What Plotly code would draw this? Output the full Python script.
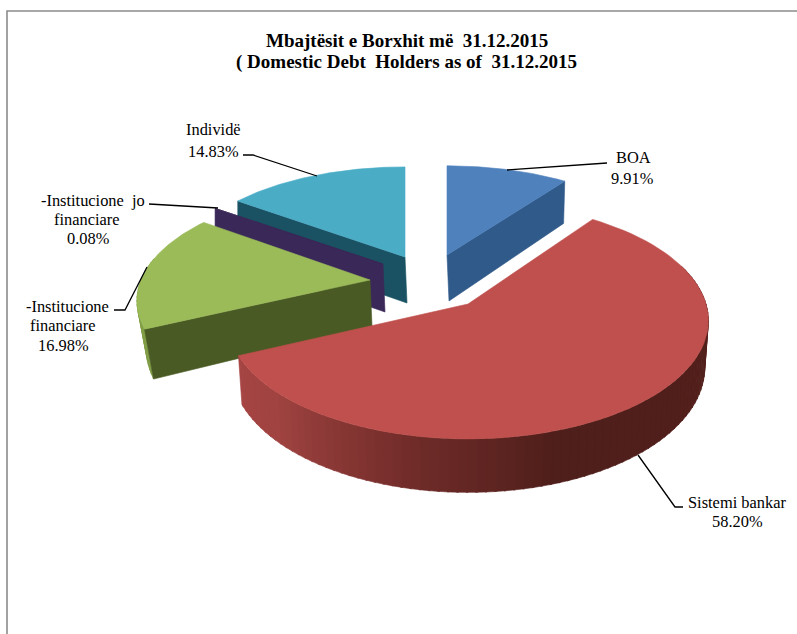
import math
import plotly.graph_objects as go

# ---- data ----
names = ["BOA", "Sistemi bankar", "-Institucione financiare", "-Institucione  jo financiare", "Individë"]
shares = [9.91, 58.20, 16.98, 0.08, 14.83]
title_lines = ["Mbajtësit e Borxhit më  31.12.2015", "( Domestic Debt  Holders as of  31.12.2015"]

# ---- drawing geometry (pixels of the 797x634 canvas) ----
W, H = 797, 634
cuts = [0.0]
for s in shares:
    cuts.append(cuts[-1] + s * 3.6 * 100 / sum(shares))  # degrees

# apex x, apex y, radius x, radius y, perspective, depth, inward shrink of the lower rim
geom = [
    (447, 255, 220, 99, 0.11, 46, 0.01),
    (468, 304, 238, 116, 0.14, 46, 0.015),
    (370, 280, 229, 108, 0.186, 46, 0.04),
    (383, 264, 222, 100, 0.11, 48, 0.0),
    (405, 257, 222, 100, 0.11, 46, 0.0),
]
top_col = ["#4f81bd", "#c0504d", "#9bbb59", "#3a2858", "#4bacc6"]
face_col = ["#305a8a", None, "#4a5a24", "#3a2858", "#1a5263"]
wall_stops = {
    1: [(60, "#5a2320"), (110, "#53201c"), (160, "#4f1f1b"), (190, "#702c29"), (225, "#a04341"), (250, "#a84644")],
    2: [(240, "#7f9c46"), (310, "#8aa84e")],
}

def hex_rgb(h):
    return tuple(int(h[i:i + 2], 16) for i in (1, 3, 5))

def lerp_col(stops, a):
    if a <= stops[0][0]:
        return stops[0][1]
    for (a0, c0), (a1, c1) in zip(stops, stops[1:]):
        if a <= a1:
            t = (a - a0) / (a1 - a0)
            r0, r1 = hex_rgb(c0), hex_rgb(c1)
            return "rgb(%d,%d,%d)" % tuple(r0[i] + (r1[i] - r0[i]) * t for i in range(3))
    return stops[-1][1]

def rim(g, deg):
    cx, cy, rx, ry, k, d, shrink = g
    t = math.radians(deg)
    u, v = math.sin(t), math.cos(t)
    s = 1 / (1 + k * v)
    return cx + rx * u * s, cy - ry * v * s, s

def low(g, deg):
    cx, cy, rx, ry, k, d, shrink = g
    x, y, s = rim(g, deg)
    return cx + (x - cx) * (1 - shrink), y + d * s

def apex_low(g):
    return g[0] + 2, g[1] + g[5]

fig = go.Figure()

def poly(xs, ys, color):
    fig.add_trace(go.Scatter(x=list(xs) + [xs[0]], y=list(ys) + [ys[0]], mode="lines",
                             fill="toself", fillcolor=color,
                             line=dict(color=color, width=0.6),
                             hoverinfo="skip", showlegend=False))

def arc_points(g, a0, a1, n=80):
    return [rim(g, a0 + (a1 - a0) * i / n)[:2] for i in range(n + 1)]

# painted back to front
order = [4, 3, 2, 0, 1]
for idx in order:
    g = geom[idx]
    a0, a1 = cuts[idx], cuts[idx + 1]
    # outer rim wall, in thin strips to carry the shading
    if idx in wall_stops:
        start = max(a0, 70) if idx == 1 else a0
        end = a1 if idx == 1 else min(a1, 282)
        step = 2.0
        a = start
        while a < end:
            b = min(a + step + 0.4, end)
            x0, y0, _ = rim(g, a)
            x1, y1, _ = rim(g, b)
            lx0, ly0 = low(g, a)
            lx1, ly1 = low(g, b)
            poly([x0, x1, lx1, lx0], [y0, y1, ly1, ly0], lerp_col(wall_stops[idx], a))
            a += step
    # visible cut face: the one on the lower side of the slice
    if face_col[idx]:
        face_a = a1 if idx == 0 else a0
        x, y, _ = rim(g, face_a)
        lx, ly = low(g, face_a)
        ax, ay = apex_low(g)
        poly([g[0], x, lx, ax], [g[1], y, ly, ay], face_col[idx])
    # top surface
    pts = arc_points(g, a0, a1)
    poly([g[0]] + [p[0] for p in pts], [g[1]] + [p[1] for p in pts], top_col[idx])

# ---- labels: (text, centre x, centre y) ----
label_font = dict(family="Liberation Serif", size=16.4, color="#000000")
labels = [
    ("BOA", 633, 157), ("%.2f%%" % shares[0], 632, 178),
    ("Sistemi bankar", 737, 502), ("%.2f%%" % shares[1], 737, 521),
    ("-Institucione", 67, 306), ("financiare", 63, 325), ("%.2f%%" % shares[2], 63, 345),
    ("-Institucione  jo", 92.5, 200), ("financiare", 87, 219), ("%.2f%%" % shares[3], 88, 238),
    ("Individë", 213, 129), ("%.2f%%" % shares[4], 213, 151),
]
annots = [dict(text=t, x=x, y=y, xref="x", yref="y", showarrow=False, xanchor="center",
               yanchor="middle", font=label_font) for t, x, y in labels]
title_font = dict(family="Liberation Serif", size=19, color="#000000")
annots += [dict(text="<b>%s</b>" % title_lines[0], x=406.5, y=40, xref="x", yref="y", showarrow=False,
                xanchor="center", yanchor="middle", font=title_font),
           dict(text="<b>%s</b>" % title_lines[1], x=406.5, y=62, xref="x", yref="y", showarrow=False,
                xanchor="center", yanchor="middle", font=title_font)]

# ---- leader lines and frame ----
leaders = [
    [(507, 170), (607, 163)],
    [(638, 455), (675, 507), (683, 507)],
    [(114, 310), (125, 310), (147, 267)],
    [(149, 204), (218, 208)],
    [(243, 155), (253, 155), (317, 176)],
]
shapes = []
for pts in leaders:
    path = "M " + " L ".join("%g %g" % p for p in pts)
    shapes.append(dict(type="path", path=path, line=dict(color="#000000", width=1.3), xref="x", yref="y"))
shapes.append(dict(type="path", path="M 7 634 L 7 11 L 797 11", line=dict(color="#8c8c8c", width=1.6),
                   xref="x", yref="y"))

fig.update_layout(
    width=W, height=H, margin=dict(l=0, r=0, t=0, b=0),
    paper_bgcolor="#ffffff", plot_bgcolor="#ffffff", showlegend=False,
    xaxis=dict(range=[0, W], visible=False, fixedrange=True),
    yaxis=dict(range=[H, 0], visible=False, fixedrange=True),
    annotations=annots, shapes=shapes,
)
fig.write_html("out.html", config=dict(displayModeBar=False),
               post_script="document.body.style.margin='0';document.documentElement.style.overflow='hidden';")
